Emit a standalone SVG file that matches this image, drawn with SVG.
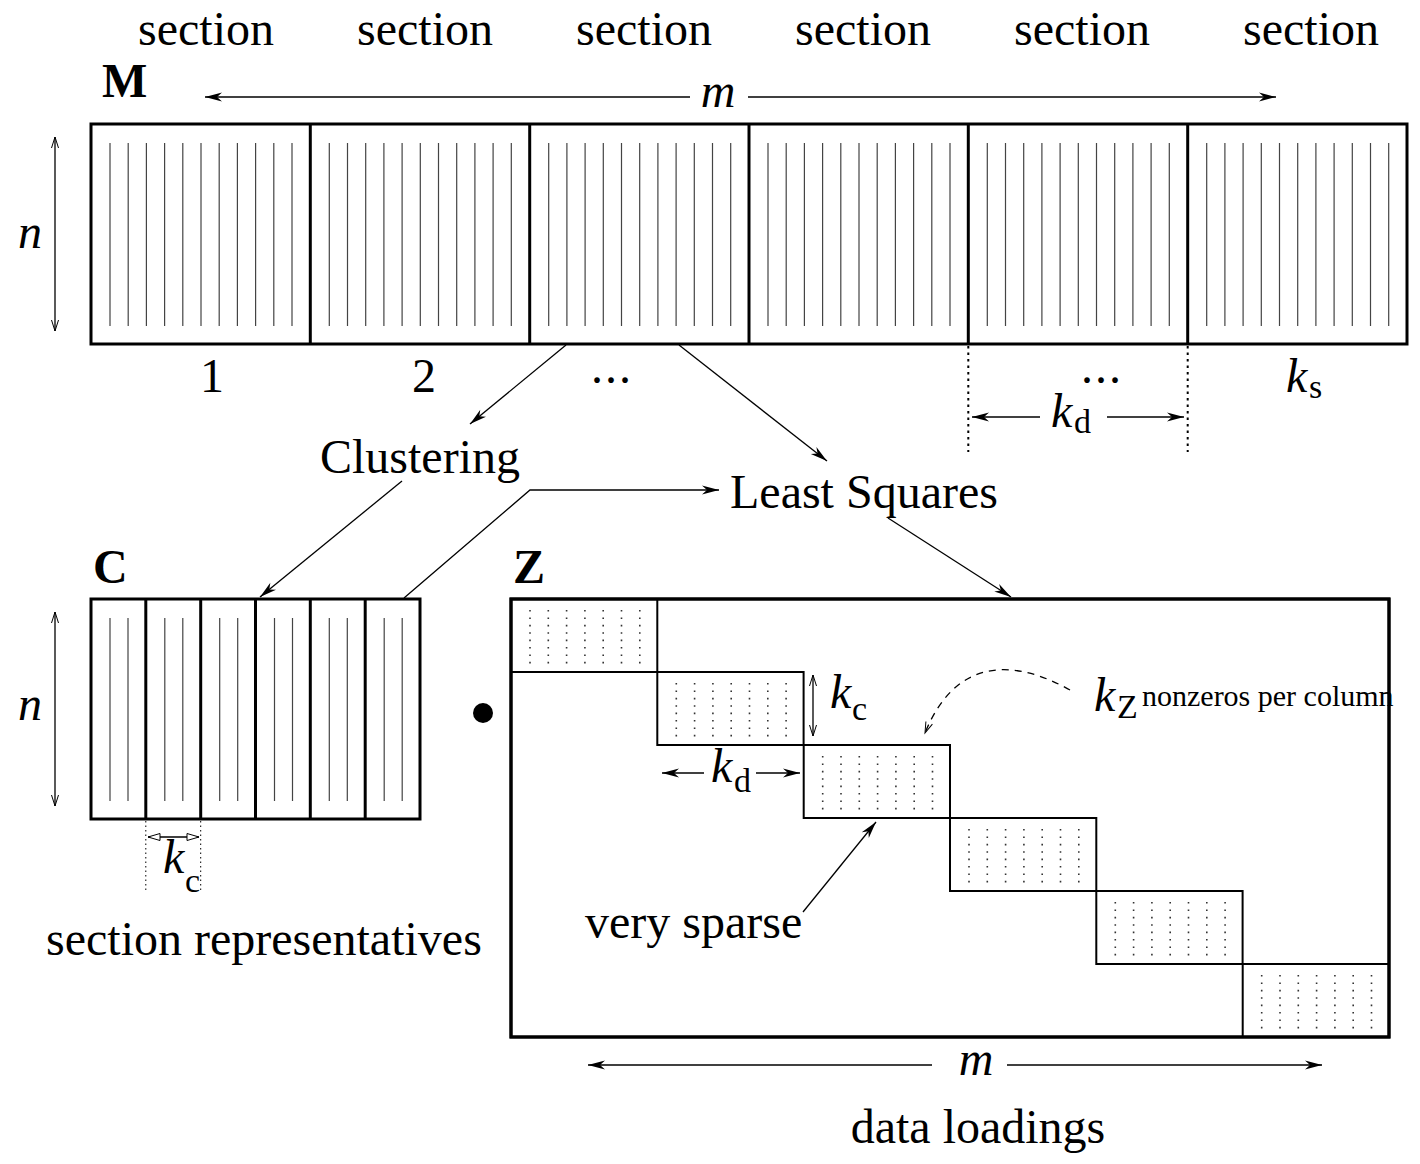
<svg xmlns="http://www.w3.org/2000/svg" xmlns:xlink="http://www.w3.org/1999/xlink" width="1420" height="1164" viewBox="0 0 1420 1164">
  <style>
    text { font-family: "Liberation Serif", "Times New Roman", serif; fill: #000; }
    .lbl { font-size: 48px; }
    .it { font-size: 48px; font-style: italic; }
    .sub { font-size: 34px; }
    .bold { font-size: 48px; font-weight: bold; }
    .small { font-size: 30px; }
    .frame { fill: #fff; stroke: #000; stroke-width: 3; }
    .div { stroke: #000; stroke-width: 3; }
    .col { stroke: #444; stroke-width: 1.2; }
    .blk { fill: none; stroke: #000; stroke-width: 2; }
    .dots { stroke: #333; stroke-width: 1.6; stroke-dasharray: 1.6 5.8; }
    .conn { fill: none; stroke: #000; stroke-width: 1.3; }
    .dotted { stroke: #000; stroke-width: 2; stroke-dasharray: 2.5 4; }
    .fine { stroke: #000; stroke-width: 1; stroke-dasharray: 1.5 3; }
  </style>
  <defs>
    <marker id="ah" markerUnits="userSpaceOnUse" markerWidth="20" markerHeight="12" viewBox="-18 -6 20 12" refX="0" refY="0" orient="auto-start-reverse">
      <path d="M0,0 L-17,-4.5 L-12,0 L-17,4.5 Z" fill="#000"/>
    </marker>
    <marker id="open" markerUnits="userSpaceOnUse" markerWidth="16" markerHeight="10" viewBox="-14 -5 16 10" refX="0" refY="0" orient="auto-start-reverse">
      <path d="M-11,-3.5 L0,0 L-11,3.5" fill="none" stroke="#000" stroke-width="1"/>
    </marker>
    <marker id="hollow" markerUnits="userSpaceOnUse" markerWidth="16" markerHeight="10" viewBox="-14 -5 16 10" refX="0" refY="0" orient="auto-start-reverse">
      <path d="M-12,-3.5 L0,0 L-12,3.5 Z" fill="#fff" stroke="#000" stroke-width="1"/>
    </marker>
    <!-- eleven column strokes for one section of M -->
    <path id="mcols" class="col" d="M19,143V326M37.2,143V326M55.4,143V326M73.6,143V326M91.8,143V326M110,143V326M128.2,143V326M146.4,143V326M164.6,143V326M182.8,143V326M201,143V326"/>
    <!-- two column strokes for one representative in C -->
    <path id="ccols" class="col" d="M19,618V801M37,618V801"/>
    <!-- dotted nonzero pattern inside one Z block -->
    <path id="zdots" class="dots" d="M19,11V65M37.3,11V65M55.6,11V65M73.9,11V65M92.2,11V65M110.5,11V65M128.8,11V65"/>
  </defs>

  <!-- section headings -->
  <g id="headings" class="lbl" text-anchor="middle">
    <text x="206" y="45">section</text>
    <text x="425" y="45">section</text>
    <text x="644" y="45">section</text>
    <text x="863" y="45">section</text>
    <text x="1082" y="45">section</text>
    <text x="1311" y="45">section</text>
  </g>

  <!-- data matrix M -->
  <g id="matrix-M">
    <text class="bold" x="102" y="97">M</text>
    <rect class="frame" x="91" y="124" width="1316" height="220"/>
    <line class="div" x1="310.3" y1="124" x2="310.3" y2="344"/>
    <line class="div" x1="529.7" y1="124" x2="529.7" y2="344"/>
    <line class="div" x1="749" y1="124" x2="749" y2="344"/>
    <line class="div" x1="968.3" y1="124" x2="968.3" y2="344"/>
    <line class="div" x1="1187.7" y1="124" x2="1187.7" y2="344"/>
    <use xlink:href="#mcols" x="91"/>
    <use xlink:href="#mcols" x="310.3"/>
    <use xlink:href="#mcols" x="529.7"/>
    <use xlink:href="#mcols" x="749"/>
    <use xlink:href="#mcols" x="968.3"/>
    <use xlink:href="#mcols" x="1187.7"/>
    <text class="lbl" x="212" y="392" text-anchor="middle">1</text>
    <text class="lbl" x="424" y="392" text-anchor="middle">2</text>
    <text class="lbl" x="612" y="383" text-anchor="middle" letter-spacing="2">...</text>
    <text class="lbl" x="1102" y="383" text-anchor="middle" letter-spacing="2">...</text>
    <text class="it" x="1286" y="392">k</text>
    <text class="sub" x="1309" y="398">s</text>
  </g>

  <!-- dimensions of M -->
  <g id="dims-M">
    <line class="conn" x1="205" y1="97" x2="690" y2="97" marker-start="url(#ah)"/>
    <line class="conn" x1="748" y1="97" x2="1276" y2="97" marker-end="url(#ah)"/>
    <text class="it" x="718" y="107" text-anchor="middle">m</text>
    <line class="conn" x1="55" y1="137" x2="55" y2="331" stroke-width="1" marker-start="url(#open)" marker-end="url(#open)"/>
    <text class="it" x="30" y="248" text-anchor="middle">n</text>
    <line class="dotted" x1="968.3" y1="346" x2="968.3" y2="452"/>
    <line class="dotted" x1="1187.7" y1="346" x2="1187.7" y2="452"/>
    <line class="conn" x1="1040" y1="417" x2="972" y2="417" marker-end="url(#ah)"/>
    <line class="conn" x1="1107" y1="417" x2="1184" y2="417" marker-end="url(#ah)"/>
    <text class="it" x="1051" y="427">k</text>
    <text class="sub" x="1074" y="433">d</text>
  </g>

  <!-- processing steps -->
  <g id="step-clustering">
    <text class="lbl" x="420" y="473" text-anchor="middle">Clustering</text>
  </g>
  <g id="step-least-squares">
    <text class="lbl" x="730" y="508">Least Squares</text>
  </g>

  <!-- representatives C -->
  <g id="matrix-C">
    <text class="bold" x="93" y="583">C</text>
    <rect class="frame" x="91" y="599" width="329" height="220"/>
    <line class="div" x1="145.8" y1="599" x2="145.8" y2="819"/>
    <line class="div" x1="200.7" y1="599" x2="200.7" y2="819"/>
    <line class="div" x1="255.5" y1="599" x2="255.5" y2="819"/>
    <line class="div" x1="310.3" y1="599" x2="310.3" y2="819"/>
    <line class="div" x1="365.2" y1="599" x2="365.2" y2="819"/>
    <use xlink:href="#ccols" x="91"/>
    <use xlink:href="#ccols" x="145.8"/>
    <use xlink:href="#ccols" x="200.7"/>
    <use xlink:href="#ccols" x="255.5"/>
    <use xlink:href="#ccols" x="310.3"/>
    <use xlink:href="#ccols" x="365.2"/>
    <line class="conn" x1="55" y1="612" x2="55" y2="806" stroke-width="1" marker-start="url(#open)" marker-end="url(#open)"/>
    <text class="it" x="30" y="720" text-anchor="middle">n</text>
    <line class="fine" x1="145.8" y1="821" x2="145.8" y2="890"/>
    <line class="fine" x1="200.7" y1="821" x2="200.7" y2="890"/>
    <line class="conn" x1="148" y1="837" x2="199" y2="837" stroke-width="1" marker-start="url(#hollow)" marker-end="url(#hollow)"/>
    <text class="it" x="163" y="873" font-size="46">k</text>
    <text class="sub" x="185" y="892">c</text>
    <text class="lbl" x="46" y="955">section representatives</text>
  </g>

  <!-- product sign -->
  <circle id="product" cx="483" cy="713" r="10" fill="#000"/>

  <!-- loadings Z -->
  <g id="matrix-Z">
    <text class="bold" x="513" y="583">Z</text>
    <rect class="frame" x="511" y="599" width="878" height="438"/>
    <rect class="blk" x="511" y="599" width="146.3" height="73"/>
    <rect class="blk" x="657.3" y="672" width="146.3" height="73"/>
    <rect class="blk" x="803.7" y="745" width="146.3" height="73"/>
    <rect class="blk" x="950" y="818" width="146.3" height="73"/>
    <rect class="blk" x="1096.3" y="891" width="146.3" height="73"/>
    <rect class="blk" x="1242.7" y="964" width="146.3" height="73"/>
    <rect x="511" y="599" width="878" height="438" fill="none" stroke="#000" stroke-width="3"/>
    <use xlink:href="#zdots" x="511" y="599"/>
    <use xlink:href="#zdots" x="657.3" y="672"/>
    <use xlink:href="#zdots" x="803.7" y="745"/>
    <use xlink:href="#zdots" x="950" y="818"/>
    <use xlink:href="#zdots" x="1096.3" y="891"/>
    <use xlink:href="#zdots" x="1242.7" y="964"/>
    <line class="conn" x1="813" y1="675" x2="813" y2="736" stroke-width="1" marker-start="url(#open)" marker-end="url(#open)"/>
    <text class="it" x="830" y="708" font-size="46">k</text>
    <text class="sub" x="852" y="720">c</text>
    <line class="conn" x1="704" y1="773" x2="662" y2="773" marker-end="url(#ah)"/>
    <line class="conn" x1="756" y1="773" x2="800" y2="773" marker-end="url(#ah)"/>
    <text class="it" x="711" y="782">k</text>
    <text class="sub" x="734" y="792">d</text>
    <text class="it" x="1094" y="711">k</text>
    <text class="sub" x="1117" y="718">Z</text>
    <text class="small" x="1142" y="706">nonzeros per column</text>
    <text class="lbl" x="585" y="938">very sparse</text>
    <line class="conn" x1="1007" y1="1065" x2="1322" y2="1065" marker-end="url(#ah)"/>
    <line class="conn" x1="932" y1="1065" x2="588" y2="1065" marker-end="url(#ah)"/>
    <text class="it" x="976" y="1075" text-anchor="middle">m</text>
    <text class="lbl" x="978" y="1143" text-anchor="middle">data loadings</text>
  </g>

  <!-- connectors -->
  <g id="connectors">
    <line class="conn" x1="566" y1="345" x2="470" y2="424" marker-end="url(#ah)"/>
    <line class="conn" x1="679" y1="345" x2="827" y2="461" marker-end="url(#ah)"/>
    <line class="conn" x1="402" y1="481" x2="260" y2="597" marker-end="url(#ah)"/>
    <polyline class="conn" points="404,598 530,490 719,490" marker-end="url(#ah)"/>
    <line class="conn" x1="888" y1="518" x2="1011" y2="597" marker-end="url(#ah)"/>
    <line class="conn" x1="803" y1="912" x2="876" y2="822" marker-end="url(#ah)"/>
    <path class="conn" d="M1070,690 C1020,662 958,652 925,733" stroke-dasharray="7 6" marker-end="url(#open)"/>
  </g>
</svg>
